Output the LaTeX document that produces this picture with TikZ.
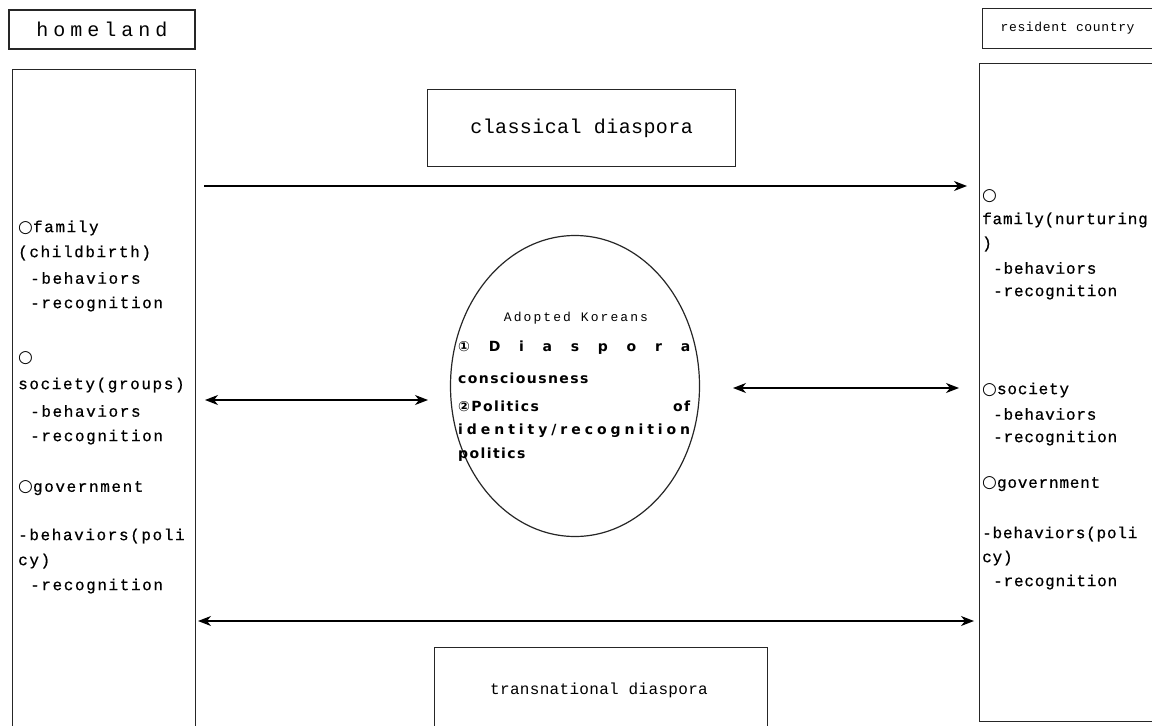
\documentclass[tikz,border=0pt]{standalone}
\usepackage{fontspec}
\usetikzlibrary{arrows.meta,shapes.geometric}
\newfontfamily\mfA[LetterSpace=10,FakeBold=0.6]{Liberation Mono}
\newfontfamily\mfR[LetterSpace=5,FakeBold=0.6]{Liberation Mono}
\newfontfamily\mfB[LetterSpace=25]{Liberation Mono}
\newfontfamily\mfC[LetterSpace=5]{Liberation Mono}
\newfontfamily\mfD[LetterSpace=2]{Liberation Mono}
\newfontfamily\mfE[LetterSpace=16]{Liberation Mono}
\newfontfamily\sfA[LetterSpace=10]{DejaVu Sans Bold}
\newfontfamily\sfB{DejaVu Sans}
\newcommand{\circsym}{{\sfB\fontsize{17}{17}\selectfont ○}}
\tikzset{
  frame/.style={draw=black!85, line width=1.2pt, inner sep=0pt},
  txt/.style={anchor=west, inner sep=0pt, font=\mfA\fontsize{16}{16}\selectfont},
  rtxt/.style={anchor=west, inner sep=0pt, font=\mfR\fontsize{16}{16}\selectfont},
  etxt/.style={anchor=west, inner sep=0pt, font=\sfA\fontsize{14}{14}\selectfont},
  arr/.style={draw=black, line width=1.2pt, -{Stealth[length=13pt,width=10pt,inset=4pt]}},
  darr/.style={draw=black, line width=1.2pt, {Stealth[length=13pt,width=10pt,inset=4pt]}-{Stealth[length=13pt,width=10pt,inset=4pt]}}
}
\begin{document}
\begin{tikzpicture}[x=1pt,y=-1pt]
\useasboundingbox (0,0) rectangle (1152,726);
% top labels
\node[frame, minimum width=186pt, minimum height=39pt, font=\mfB\fontsize{20}{20}\selectfont] (home) at (102,29.5) {homeland};
\node[frame, minimum width=170pt, minimum height=40pt, font=\mfC\fontsize{13}{13}\selectfont, anchor=north west] (res) at (982,8) {resident country};
% tall boxes
\node[frame, minimum width=183pt, minimum height=700pt, anchor=north west] (hbox) at (12,69) {};
\node[frame, minimum width=200pt, minimum height=658pt, anchor=north west] (rbox) at (979,63) {};
% classical diaspora
\node[frame, minimum width=308pt, minimum height=77pt, anchor=north west, font=\mfD\fontsize{20}{20}\selectfont] (cls) at (427,89) {classical diaspora};
% transnational diaspora
\node[frame, minimum width=333pt, minimum height=120pt, anchor=north west] (trn) at (434,647) {};
\node[font=\mfD\fontsize{16}{16}\selectfont, inner sep=0pt] (trnt) at (599,690) {transnational diaspora};
% ellipse
\node[draw=black!85, line width=1.2pt, ellipse, minimum width=249pt, minimum height=301pt, inner sep=0pt] (ell) at (575,386) {};
\node[font=\mfE\fontsize{13}{13}\selectfont, inner sep=0pt] (adk) at (576,318) {Adopted Koreans};
\node[etxt] (e1) at (458,348) {\makebox[232pt][s]{①\hfill D\hfill i\hfill a\hfill s\hfill p\hfill o\hfill r\hfill a}};
\node[etxt] (e2) at (458,378) {consciousness};
\node[etxt] (e3) at (458,406) {\makebox[232pt][s]{②Politics\hfill of}};
\node[etxt] (e4) at (458,431) {\makebox[232pt][s]{i\hfill d\hfill e\hfill n\hfill t\hfill i\hfill t\hfill y\hfill /\hfill r\hfill e\hfill c\hfill o\hfill g\hfill n\hfill i\hfill t\hfill i\hfill o\hfill n}};
\node[etxt] (e5) at (458,455) {politics};
% left column text
\node[txt] (l1) at (18,228) {\circsym family};
\node[txt] (l2) at (18,253) {(childbirth)};
\node[txt] (l3) at (30,278) {-behaviors};
\node[txt] (l4) at (30,304) {-recognition};
\node[txt] (l5) at (18,358) {\circsym};
\node[txt] (l6) at (18,385) {society(groups)};
\node[txt] (l7) at (30,411) {-behaviors};
\node[txt] (l8) at (30,437) {-recognition};
\node[txt] (l9) at (18,488) {\circsym government};
\node[txt] (l10) at (18,536) {-behaviors(poli};
\node[txt] (l11) at (18,561) {cy)};
\node[txt] (l12) at (30,586) {-recognition};
% right column text
\node[rtxt] (r1) at (982,196) {\circsym};
\node[rtxt] (r2) at (982,220) {family(nurturing};
\node[rtxt] (r3) at (982,244) {)};
\node[rtxt] (r4) at (993,268) {-behaviors};
\node[rtxt] (r5) at (993,292) {-recognition};
\node[rtxt] (r6) at (982,390) {\circsym society};
\node[rtxt] (r7) at (993,414) {-behaviors};
\node[rtxt] (r8) at (993,438) {-recognition};
\node[rtxt] (r9) at (982,484) {\circsym government};
\node[rtxt] (r10) at (982,534) {-behaviors(poli};
\node[rtxt] (r11) at (982,558) {cy)};
\node[rtxt] (r12) at (993,582) {-recognition};
% arrow end points
\coordinate (a1s) at (204,186);
\coordinate (a1e) at (967,186);
\coordinate (a2s) at (205,400);
\coordinate (a2e) at (428,400);
\coordinate (a3s) at (733,388);
\coordinate (a3e) at (959,388);
\coordinate (a4s) at (198,621);
\coordinate (a4e) at (974,621);
\draw[arr] (a1s) -- (a1e);
\draw[darr] (a2s) -- (a2e);
\draw[darr] (a3s) -- (a3e);
\draw[darr] (a4s) -- (a4e);
\end{tikzpicture}
\end{document}
